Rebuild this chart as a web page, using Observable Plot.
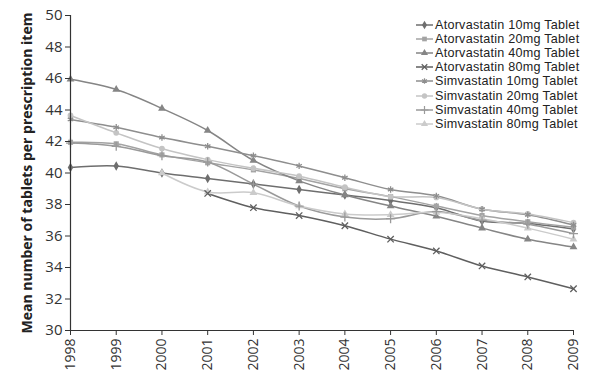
<!DOCTYPE html>
<html>
<head>
<meta charset="utf-8">
<script src="https://cdn.jsdelivr.net/npm/d3@7"></script>
<script src="https://cdn.jsdelivr.net/npm/@observablehq/plot@0.6"></script>
<style>
  body { margin: 0; background: #fff; }
  #wrap { position: relative; width: 594px; height: 372px; overflow: hidden; font-family: "Open Sans", sans-serif; }
  #legend { position: absolute; left: 416px; top: 0; font-family: "Liberation Sans", Arial, sans-serif; font-size: 12.6px; letter-spacing: 0.25px; color: #222; }
  .row { position: absolute; left: 0; height: 14px; display: flex; align-items: center; white-space: nowrap; }
  .row span { line-height: 14px; }
  .row svg { margin-right: 2px; }
</style>
</head>
<body>
<div id="wrap"><div id="chart"></div><div id="legend"></div></div>
<script>
const years = [1998, 1999, 2000, 2001, 2002, 2003, 2004, 2005, 2006, 2007, 2008, 2009];
const yTicks = [30, 32, 34, 36, 38, 40, 42, 44, 46, 48, 50];
const seriesNames = [
  "Atorvastatin 10mg Tablet", "Atorvastatin 20mg Tablet", "Atorvastatin 40mg Tablet", "Atorvastatin 80mg Tablet",
  "Simvastatin 10mg Tablet", "Simvastatin 20mg Tablet", "Simvastatin 40mg Tablet", "Simvastatin 80mg Tablet"
];
const atorva10 = [40.35, 40.45, 40.0, 39.65, 39.3, 38.95, 38.6, 38.25, 37.8, 36.95, 36.8, 36.45];
const atorva20 = [41.95, 41.85, 41.15, 40.65, 40.2, 39.65, 39.0, 38.5, 37.9, 37.3, 36.9, 36.55];
const atorva40 = [45.95, 45.3, 44.1, 42.7, 40.8, 39.5, 38.6, 37.9, 37.25, 36.5, 35.8, 35.3];
const atorva80 = [null, null, null, 38.7, 37.8, 37.3, 36.65, 35.8, 35.05, 34.1, 33.4, 32.65];
const simva10 = [43.4, 42.9, 42.25, 41.7, 41.1, 40.45, 39.7, 38.95, 38.55, 37.7, 37.35, 36.7];
const simva20 = [43.65, 42.55, 41.55, 40.85, 40.3, 39.8, 39.1, 38.5, 38.45, 37.7, 37.4, 36.85];
const simva40 = [41.9, 41.7, 41.1, 40.7, 39.3, 37.9, 37.2, 37.1, 37.55, 37.0, 36.75, 36.15];
const simva80 = [null, null, 40.0, 38.8, 38.75, 37.9, 37.4, 37.35, 37.5, 37.1, 36.5, 35.8];
const seriesValues = [atorva10, atorva20, atorva40, atorva80, simva10, simva20, simva40, simva80];
const seriesColors = ["#6e6e6e", "#a3a3a3", "#858585", "#5f5f5f", "#8e8e8e", "#c4c4c4", "#9a9a9a", "#cbcbcb"];
const seriesSymbols = ["diamond", "square", "triangle", "times", "asterisk", "circle", "plus", "triangle"];
const filledSymbols = new Set(["diamond", "square", "triangle", "circle"]);
const yLabel = "Mean number of tablets per prescription item";

const rows = seriesNames.flatMap((name, i) =>
  seriesValues[i].map((v, j) => ({series: name, year: years[j], value: v, sym: seriesSymbols[i]}))
).filter(d => d.value != null);

const chart = Plot.plot({
  width: 594,
  height: 372,
  marginLeft: 70,
  marginRight: 21,
  marginTop: 15,
  marginBottom: 42,
  style: {fontFamily: "Open Sans, sans-serif", color: "#333", background: "#fff"},
  x: {domain: [years[0], years[years.length - 1]]},
  y: {domain: [yTicks[0], yTicks[yTicks.length - 1]]},
  color: {domain: seriesNames, range: seriesColors},
  symbol: {domain: seriesNames, range: seriesSymbols},
  marks: [
    Plot.line(rows, {x: "year", y: "value", z: "series", stroke: "series", strokeWidth: 1.5, curve: "catmull-rom"}),
    Plot.dot(rows.filter(d => filledSymbols.has(d.sym)), {x: "year", y: "value", symbol: "series", fill: "series", r: 2.9}),
    Plot.dot(rows.filter(d => !filledSymbols.has(d.sym)), {x: "year", y: "value", symbol: "series", stroke: "series", strokeWidth: 1.3, r: 3}),
    Plot.ruleX([years[0]], {stroke: "#333", strokeWidth: 1.2}),
    Plot.ruleY([yTicks[0]], {stroke: "#333", strokeWidth: 1.2}),
    Plot.axisY({ticks: yTicks, tickSize: 5, tickPadding: 3, fontSize: 15, label: null}),
    Plot.axisX({ticks: years, tickFormat: d => String(d), tickRotate: -90, tickSize: 5, tickPadding: 3, fontSize: 14, label: null}),
    Plot.text([yLabel], {frameAnchor: "left", textAnchor: "middle", rotate: -90, dx: -43, fontWeight: "bold", fontSize: 14, fill: "#222"})
  ]
});
document.getElementById("chart").append(chart);

// Legend
const legend = d3.select("#legend");
seriesNames.forEach((name, i) => {
  const row = legend.append("div").attr("class", "row").style("top", (18 + i * 14.1) + "px");
  const svg = row.append("svg").attr("width", 17).attr("height", 10);
  svg.append("line").attr("x1", 0).attr("x2", 17).attr("y1", 5).attr("y2", 5)
    .attr("stroke", seriesColors[i]).attr("stroke-width", 1.5);
  const symType = {diamond: d3.symbolDiamond, square: d3.symbolSquare, triangle: d3.symbolTriangle,
    times: d3.symbolTimes, asterisk: d3.symbolAsterisk, circle: d3.symbolCircle, plus: d3.symbolPlus}[seriesSymbols[i]];
  const filled = filledSymbols.has(seriesSymbols[i]);
  svg.append("path").attr("transform", "translate(8.5,5)")
    .attr("d", d3.symbol(symType, 22)())
    .attr("fill", filled ? seriesColors[i] : "none")
    .attr("stroke", filled ? "none" : seriesColors[i]).attr("stroke-width", 1.2);
  row.append("span").text(name);
});
</script>
</body>
</html>
